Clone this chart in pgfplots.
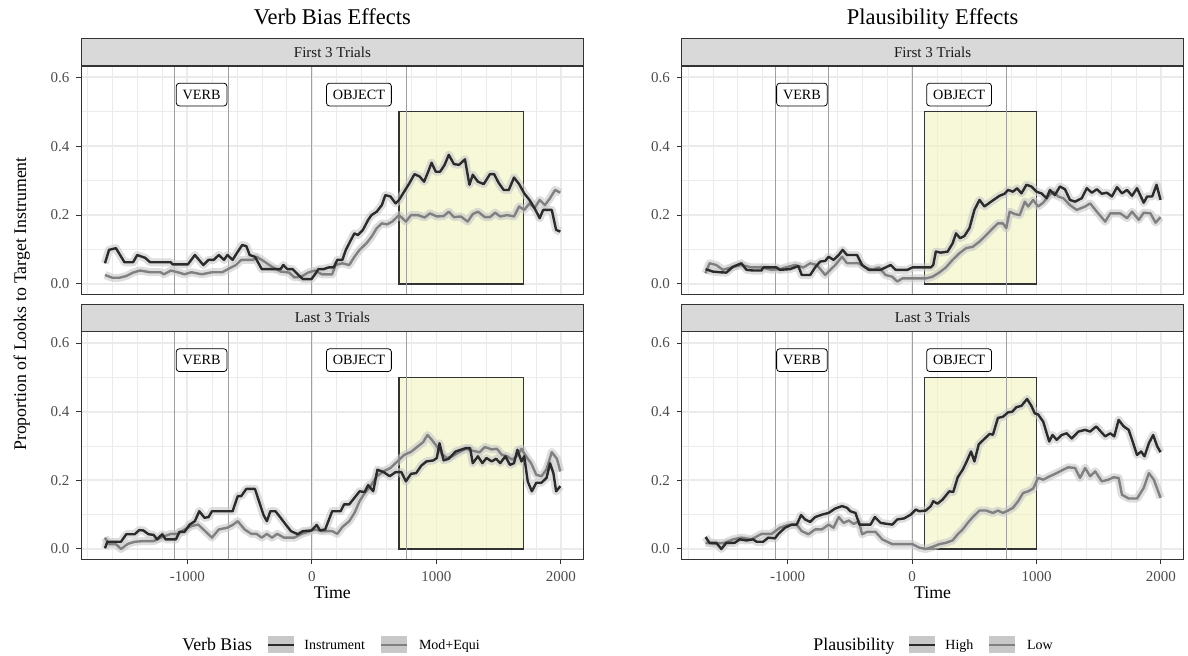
\documentclass[border=0pt]{standalone}
\usepackage{fontspec}
\setmainfont{Liberation Serif}
\usepackage{pgfplots}
\usepackage{pgfplotstable}
\pgfplotsset{compat=1.18}

\definecolor{grey20}{HTML}{333333}
\definecolor{grey30}{HTML}{4D4D4D}
\definecolor{grey92}{HTML}{EBEBEB}
\definecolor{stripfill}{HTML}{D9D9D9}
\definecolor{darkline}{HTML}{2B2B2B}
\definecolor{lightline}{HTML}{808080}
\definecolor{ribbon}{HTML}{C8C8C8}
\definecolor{vline}{HTML}{A0A0A0}
\definecolor{roi}{RGB}{240,244,190}

% ---------- Verb bias, first 3 trials ----------
\pgfplotstableread{
t y
-1661 0.060
-1628 0.099
-1573 0.104
-1504 0.063
-1435 0.063
-1402 0.084
-1339 0.076
-1298 0.063
-1132 0.063
-1119 0.057
-995 0.057
-939 0.084
-871 0.055
-829 0.070
-788 0.070
-747 0.084
-705 0.070
-678 0.084
-636 0.070
-603 0.089
-559 0.113
-526 0.110
-499 0.084
-457 0.079
-402 0.043
-251 0.043
-229 0.055
-196 0.043
-154 0.043
-113 0.028
-72 0.014
-3 0.014
25 0.028
52 0.043
94 0.043
135 0.048
176 0.048
204 0.070
245 0.070
273 0.099
314 0.128
342 0.147
369 0.142
410 0.157
452 0.186
479 0.200
521 0.210
562 0.229
590 0.258
631 0.254
672 0.234
700 0.244
741 0.268
782 0.292
824 0.319
865 0.312
901 0.297
934 0.326
961 0.352
995 0.326
1030 0.326
1066 0.346
1099 0.375
1141 0.348
1182 0.346
1229 0.362
1265 0.288
1292 0.317
1333 0.297
1380 0.290
1430 0.319
1463 0.319
1499 0.294
1540 0.273
1581 0.273
1623 0.309
1664 0.290
1705 0.263
1747 0.244
1788 0.220
1829 0.191
1857 0.215
1926 0.215
1961 0.157
1995 0.152
}\vbFirstInstr

\pgfplotstableread{
t y
-1661 0.026
-1601 0.018
-1545 0.018
-1490 0.023
-1435 0.033
-1380 0.039
-1298 0.034
-1215 0.034
-1187 0.028
-1132 0.039
-1077 0.034
-1022 0.028
-967 0.034
-884 0.028
-802 0.034
-719 0.034
-664 0.045
-609 0.055
-567 0.070
-512 0.070
-471 0.070
-444 0.079
-402 0.070
-361 0.060
-320 0.050
-251 0.036
-182 0.033
-141 0.019
-85 0.021
-30 0.033
25 0.039
80 0.028
163 0.028
190 0.055
245 0.060
300 0.055
342 0.079
383 0.099
438 0.118
479 0.137
521 0.162
562 0.176
603 0.173
645 0.181
700 0.200
755 0.181
796 0.200
851 0.200
906 0.193
948 0.205
1003 0.196
1058 0.197
1099 0.210
1141 0.194
1196 0.196
1251 0.181
1292 0.203
1333 0.210
1389 0.194
1430 0.194
1471 0.207
1512 0.196
1568 0.200
1623 0.196
1664 0.225
1705 0.215
1747 0.234
1788 0.220
1829 0.244
1871 0.229
1912 0.249
1953 0.273
1995 0.265
}\vbFirstMod

% ---------- Verb bias, last 3 trials ----------
\pgfplotstableread{
t y
-1661 0.002
-1642 0.021
-1532 0.021
-1490 0.043
-1422 0.043
-1386 0.055
-1353 0.054
-1311 0.043
-1270 0.041
-1243 0.028
-1201 0.043
-1174 0.028
-1091 0.028
-1063 0.050
-1022 0.050
-981 0.071
-939 0.081
-904 0.110
-862 0.091
-829 0.093
-802 0.110
-636 0.110
-595 0.154
-567 0.154
-526 0.175
-457 0.175
-416 0.130
-388 0.099
-361 0.081
-333 0.110
-292 0.110
-251 0.091
-209 0.071
-168 0.052
-113 0.043
-72 0.052
-3 0.054
39 0.070
66 0.054
107 0.057
163 0.110
231 0.110
259 0.130
300 0.130
342 0.149
383 0.168
424 0.166
452 0.186
493 0.168
526 0.231
576 0.224
625 0.212
672 0.224
719 0.224
755 0.197
796 0.219
837 0.221
879 0.243
920 0.255
975 0.258
1003 0.265
1025 0.308
1058 0.258
1099 0.263
1154 0.284
1196 0.289
1237 0.294
1270 0.294
1292 0.250
1333 0.270
1369 0.250
1402 0.265
1444 0.255
1479 0.263
1512 0.250
1554 0.270
1590 0.245
1623 0.250
1650 0.289
1683 0.255
1705 0.270
1733 0.197
1766 0.168
1802 0.193
1843 0.193
1884 0.207
1912 0.250
1939 0.221
1961 0.168
1995 0.183
}\vbLastInstr

\pgfplotstableread{
t y
-1661 0.033
-1628 0.014
-1573 0.014
-1532 0.000
-1477 0.015
-1422 0.021
-1353 0.023
-1270 0.023
-1201 0.035
-1132 0.044
-1077 0.044
-1022 0.057
-967 0.067
-912 0.071
-871 0.057
-802 0.033
-747 0.057
-678 0.062
-636 0.070
-595 0.081
-540 0.057
-485 0.044
-444 0.044
-402 0.033
-361 0.044
-320 0.033
-278 0.044
-223 0.033
-141 0.033
-85 0.044
-30 0.050
25 0.057
80 0.052
163 0.052
204 0.044
245 0.064
300 0.081
342 0.105
383 0.139
424 0.163
466 0.180
521 0.212
576 0.226
631 0.236
686 0.255
741 0.274
796 0.283
851 0.299
893 0.311
928 0.332
961 0.319
1003 0.299
1044 0.276
1085 0.265
1127 0.270
1182 0.282
1237 0.292
1292 0.286
1347 0.282
1389 0.297
1444 0.290
1485 0.292
1526 0.274
1568 0.270
1609 0.260
1650 0.272
1683 0.292
1719 0.270
1760 0.250
1802 0.216
1843 0.212
1884 0.232
1926 0.282
1967 0.263
1995 0.226
}\vbLastMod

% ---------- Plausibility, first 3 trials ----------
\pgfplotstableread{
t y
-1660 0.043
-1601 0.036
-1547 0.034
-1493 0.033
-1439 0.050
-1372 0.060
-1331 0.041
-1277 0.039
-1210 0.039
-1197 0.048
-1089 0.048
-1062 0.041
-981 0.043
-914 0.052
-887 0.026
-819 0.026
-779 0.048
-739 0.065
-698 0.067
-671 0.079
-631 0.070
-590 0.084
-558 0.099
-523 0.084
-442 0.084
-402 0.055
-348 0.041
-253 0.041
-213 0.048
-172 0.055
-132 0.041
-38 0.041
3 0.048
151 0.048
170 0.055
191 0.094
232 0.091
286 0.094
326 0.118
353 0.147
385 0.133
420 0.139
461 0.162
501 0.215
542 0.244
582 0.225
623 0.236
663 0.246
703 0.256
744 0.262
771 0.273
811 0.268
844 0.278
879 0.263
919 0.288
959 0.283
1000 0.268
1040 0.263
1081 0.249
1108 0.273
1148 0.258
1188 0.283
1229 0.275
1269 0.244
1310 0.239
1364 0.249
1404 0.278
1445 0.265
1485 0.275
1525 0.262
1566 0.265
1606 0.254
1647 0.281
1687 0.263
1728 0.273
1768 0.256
1808 0.278
1862 0.236
1889 0.254
1930 0.254
1965 0.288
1997 0.244
}\plFirstHigh

\pgfplotstableread{
t y
-1660 0.031
-1628 0.060
-1574 0.055
-1520 0.041
-1453 0.048
-1372 0.055
-1291 0.048
-1210 0.048
-1129 0.041
-1062 0.043
-994 0.050
-941 0.055
-873 0.048
-819 0.060
-765 0.055
-698 0.026
-658 0.041
-617 0.055
-563 0.079
-523 0.060
-469 0.060
-428 0.060
-375 0.048
-321 0.041
-267 0.048
-213 0.026
-159 0.021
-119 0.007
-78 0.016
30 0.016
110 0.016
164 0.021
218 0.033
272 0.048
326 0.070
380 0.089
434 0.104
488 0.108
542 0.123
596 0.142
650 0.162
690 0.176
730 0.176
757 0.162
784 0.210
825 0.203
865 0.200
906 0.239
933 0.225
973 0.244
1013 0.225
1054 0.236
1094 0.254
1135 0.268
1175 0.254
1215 0.249
1269 0.229
1323 0.215
1391 0.225
1431 0.234
1485 0.210
1552 0.181
1593 0.205
1674 0.205
1728 0.191
1768 0.210
1822 0.186
1862 0.207
1916 0.205
1957 0.178
1997 0.194
}\plFirstLow

% ---------- Plausibility, last 3 trials ----------
\pgfplotstableread{
t y
-1660 0.035
-1628 0.018
-1574 0.018
-1533 0.000
-1493 0.018
-1426 0.018
-1385 0.028
-1331 0.025
-1277 0.028
-1250 0.021
-1197 0.021
-1156 0.033
-1102 0.031
-1075 0.044
-1021 0.062
-968 0.071
-927 0.071
-892 0.099
-860 0.086
-819 0.079
-779 0.093
-725 0.100
-671 0.105
-617 0.118
-563 0.125
-523 0.120
-496 0.110
-455 0.105
-423 0.071
-375 0.071
-334 0.071
-299 0.093
-253 0.076
-199 0.073
-159 0.071
-119 0.086
-65 0.089
-11 0.100
30 0.115
57 0.110
110 0.112
151 0.125
170 0.139
205 0.132
245 0.144
299 0.168
331 0.166
367 0.209
407 0.231
439 0.255
474 0.284
501 0.255
536 0.305
582 0.321
623 0.335
650 0.333
690 0.382
730 0.385
771 0.398
806 0.400
838 0.413
879 0.417
924 0.437
959 0.417
986 0.395
1013 0.392
1054 0.371
1102 0.313
1129 0.332
1162 0.318
1202 0.332
1242 0.337
1283 0.322
1337 0.342
1391 0.347
1431 0.342
1480 0.357
1517 0.342
1552 0.328
1593 0.337
1625 0.328
1660 0.376
1701 0.357
1741 0.347
1768 0.318
1808 0.274
1841 0.284
1868 0.270
1903 0.308
1938 0.332
1970 0.299
1997 0.282
}\plLastHigh

\pgfplotstableread{
t y
-1660 0.018
-1587 0.015
-1506 0.018
-1439 0.028
-1372 0.033
-1291 0.028
-1210 0.044
-1129 0.044
-1062 0.062
-994 0.070
-927 0.071
-887 0.052
-833 0.043
-779 0.057
-725 0.057
-671 0.071
-631 0.062
-590 0.093
-550 0.076
-509 0.083
-469 0.073
-428 0.081
-402 0.043
-361 0.050
-294 0.050
-240 0.028
-159 0.014
-78 0.014
3 0.014
57 0.004
110 0.000
164 0.006
218 0.014
272 0.018
326 0.025
367 0.043
407 0.057
447 0.076
488 0.093
542 0.112
596 0.112
650 0.105
690 0.112
730 0.105
771 0.112
811 0.120
852 0.139
892 0.163
933 0.168
973 0.176
1013 0.207
1054 0.202
1108 0.212
1162 0.221
1215 0.231
1256 0.238
1310 0.236
1350 0.207
1391 0.236
1431 0.212
1472 0.226
1525 0.197
1579 0.202
1620 0.209
1660 0.207
1687 0.158
1741 0.147
1808 0.147
1862 0.178
1903 0.221
1943 0.202
1997 0.149
}\plLastLow

\pgfplotsset{
  panel/.style={
    scale only axis,
    xmin=-1850, xmax=2180, ymin=-0.030, ymax=0.633,
    clip=false,
    axis line style={grey20, line width=0.55pt},
    xtick={-1000,0,1000,2000}, xticklabels={-1000,0,1000,2000},
    ytick={0,0.2,0.4,0.6}, yticklabels={0.0,0.2,0.4,0.6},
    minor xtick={-1800,-1600,...,2000},
    minor ytick={0.1,0.3,0.5},
    grid=both,
    major grid style={grey92, line width=0.9pt},
    minor grid style={grey92, line width=0.45pt},
    tick align=outside, xtick pos=bottom, ytick pos=left,
    major tick length=2.5pt, minor tick length=0pt,
    tick style={grey20, line width=0.5pt},
    ticklabel style={font=\fontsize{7.5}{8}\selectfont, text=grey30},
  },
  toppanel/.style={panel, xticklabels={}, xmajorticks=false},
  rib/.style={ribbon, line width=4pt, opacity=0.6, line join=round, no marks},
  dline/.style={darkline, line width=1.2pt, line join=round, no marks},
  lline/.style={lightline, line width=1.2pt, line join=round, no marks},
}

% annotation commands: strip, event lines, region, labels
\newcommand{\strip}[1]{%
  \draw[fill=stripfill, draw=grey20, line width=0.55pt] (rel axis cs:0,1) rectangle ([yshift=13.65pt]rel axis cs:1,1);
  \node[font=\fontsize{7.5}{8}\selectfont, text=black!90, anchor=base] at ([yshift=4.4pt]rel axis cs:0.5,1) {#1};}
\newcommand{\events}{%
  \foreach \xv in {-1100,-670,0,757}{\edef\tmp{\noexpand\draw[vline, line width=0.55pt] (axis cs:\xv,-0.030) -- (axis cs:\xv,0.633);}\tmp}
  \node[draw=black, fill=white, rounded corners=1.5pt, font=\fontsize{7.1}{8}\selectfont, inner xsep=3.2pt, inner ysep=3.3pt] at (axis cs:-885,0.55) {VERB};
  \node[draw=black, fill=white, rounded corners=1.5pt, font=\fontsize{7.1}{8}\selectfont, inner xsep=3.2pt, inner ysep=3.3pt] at (axis cs:378,0.55) {OBJECT};}
\newcommand{\roi}[2]{%
  \filldraw[fill=roi, fill opacity=0.6, draw=grey20, line width=0.55pt] (axis cs:#1,0) rectangle (axis cs:#2,0.5);}

\begin{document}
\begin{tikzpicture}
\useasboundingbox (0,0) rectangle (594pt,328pt);

% ---- Verb bias: first 3 trials
\begin{axis}[toppanel, at={(40.7pt,180.85pt)}, anchor=south west, width=251pt, height=114.15pt]
  \roi{700}{1700}
  \events
  \addplot[rib] table {\vbFirstMod};
  \addplot[rib] table {\vbFirstInstr};
  \addplot[lline] table {\vbFirstMod};
  \addplot[dline] table {\vbFirstInstr};
  \strip{First 3 Trials}
\end{axis}

% ---- Verb bias: last 3 trials
\begin{axis}[panel, at={(40.7pt,48.35pt)}, anchor=south west, width=251pt, height=113.8pt]
  \roi{700}{1700}
  \events
  \addplot[rib] table {\vbLastMod};
  \addplot[rib] table {\vbLastInstr};
  \addplot[lline] table {\vbLastMod};
  \addplot[dline] table {\vbLastInstr};
  \strip{Last 3 Trials}
\end{axis}

% ---- Plausibility: first 3 trials
\begin{axis}[toppanel, at={(340.95pt,180.85pt)}, anchor=south west, width=250.7pt, height=114.15pt]
  \roi{100}{1000}
  \events
  \addplot[rib] table {\plFirstLow};
  \addplot[rib] table {\plFirstHigh};
  \addplot[lline] table {\plFirstLow};
  \addplot[dline] table {\plFirstHigh};
  \strip{First 3 Trials}
\end{axis}

% ---- Plausibility: last 3 trials
\begin{axis}[panel, at={(340.95pt,48.35pt)}, anchor=south west, width=250.7pt, height=113.8pt]
  \roi{100}{1000}
  \events
  \addplot[rib] table {\plLastLow};
  \addplot[rib] table {\plLastHigh};
  \addplot[lline] table {\plLastLow};
  \addplot[dline] table {\plLastHigh};
  \strip{Last 3 Trials}
\end{axis}

% titles and axis titles
\node[anchor=base, font=\fontsize{11.25}{13}\selectfont] at (166.2pt,315.5pt) {Verb Bias Effects};
\node[anchor=base, font=\fontsize{11.25}{13}\selectfont] at (466.3pt,315.5pt) {Plausibility Effects};
\node[anchor=base, rotate=90, font=\fontsize{8.9}{10}\selectfont] at (13pt,176pt) {Proportion of Looks to Target Instrument};
\node[anchor=base, font=\fontsize{8.9}{10}\selectfont] at (166.2pt,28.5pt) {Time};
\node[anchor=base, font=\fontsize{8.9}{10}\selectfont] at (466.3pt,28.5pt) {Time};

% legends
\begin{scope}[font=\fontsize{7}{8}\selectfont]
  \node[anchor=base west, inner xsep=0pt, font=\fontsize{8.9}{10}\selectfont] at (91pt,2.6pt) {Verb Bias};
  \fill[ribbon] (134pt,1.25pt) rectangle (147pt,9.75pt);
  \draw[darkline, line width=1.2pt] (134pt,5.5pt) -- (147pt,5.5pt);
  \node[anchor=base west, inner xsep=0pt] at (152pt,3pt) {Instrument};
  \fill[ribbon] (190.5pt,1.25pt) rectangle (203.5pt,9.75pt);
  \draw[lightline, line width=1.2pt] (190.5pt,5.5pt) -- (203.5pt,5.5pt);
  \node[anchor=base west, inner xsep=0pt] at (209.3pt,3pt) {Mod+Equi};

  \node[anchor=base west, inner xsep=0pt, font=\fontsize{8.9}{10}\selectfont] at (406.5pt,2.6pt) {Plausibility};
  \fill[ribbon] (454.5pt,1.25pt) rectangle (467.5pt,9.75pt);
  \draw[darkline, line width=1.2pt] (454.5pt,5.5pt) -- (467.5pt,5.5pt);
  \node[anchor=base west, inner xsep=0pt] at (472.5pt,3pt) {High};
  \fill[ribbon] (494.5pt,1.25pt) rectangle (507.5pt,9.75pt);
  \draw[lightline, line width=1.2pt] (494.5pt,5.5pt) -- (507.5pt,5.5pt);
  \node[anchor=base west, inner xsep=0pt] at (513.3pt,3pt) {Low};
\end{scope}
\end{tikzpicture}
\end{document}
